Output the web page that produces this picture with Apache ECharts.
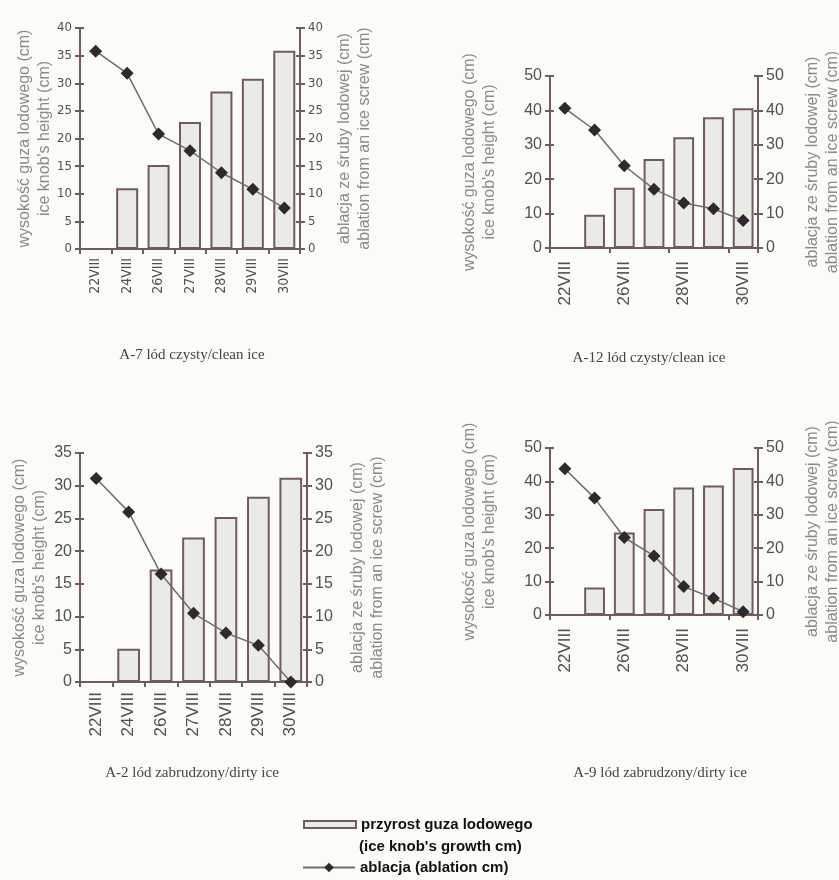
<!DOCTYPE html>
<html>
<head>
<meta charset="UTF-8">
<title>Ice knobs</title>
<script src="https://cdn.jsdelivr.net/npm/echarts@6/dist/echarts.min.js"></script>
<style>
  html, body { margin: 0; padding: 0; background: #fbfbf7; }
  #chart { width: 839px; height: 880px; }
</style>
</head>
<body>
<div id="chart"></div>
<script>
// dni pomiarow
var days = ['22VIII', '24VIII', '26VIII', '27VIII', '28VIII', '29VIII', '30VIII'];

// przyrost guza lodowego (cm) i ablacja (cm)
var knobA7 = [0, 11, 15.2, 23, 28.5, 30.8, 35.9];
var ablA7 = [35.8, 31.8, 20.8, 17.8, 13.8, 10.8, 7.4];
var knobA12 = [0, 9.7, 17.5, 25.9, 32.2, 38, 40.6];
var ablA12 = [40.6, 34.3, 23.9, 17.1, 13.1, 11.4, 8];
var knobA2 = [0, 5.1, 17.2, 22.1, 25.2, 28.3, 31.2];
var ablA2 = [31.1, 26, 16.5, 10.5, 7.5, 5.6, 0];
var knobA9 = [0, 8.2, 24.7, 31.7, 38.2, 38.8, 44];
var ablA9 = [43.8, 35, 23.2, 17.7, 8.5, 5, 1];

var titles = ['A-7 lód czysty/clean ice', 'A-12 lód czysty/clean ice',
              'A-2 lód zabrudzony/dirty ice', 'A-9 lód zabrudzony/dirty ice'];
var barName = 'przyrost guza lodowego';
var lineName = 'ablacja (ablation cm)';

var axisCol = '#6d5c60';
var labelCol = '#505050';
var nameCol = '#8a8a8a';
var narrow = '"DejaVu Sans Condensed", "Liberation Sans", sans-serif';

var panels = [
  { knob: knobA7, abl: ablA7, max: 40, step: 5, every: 0, fs: 13, xfs: 14, xm: 9, font: narrow,
    grid: { left: 80, top: 28, width: 220, height: 221 }, gapL: 25, gapR: 35, tx: 192, ty: 355 },
  { knob: knobA12, abl: ablA12, max: 50, step: 10, every: 1, fs: 16, xfs: 17, xm: 13, font: 'Liberation Sans',
    grid: { left: 550, top: 76, width: 208, height: 172 }, gapL: 50, gapR: 45, tx: 649, ty: 358 },
  { knob: knobA2, abl: ablA2, max: 35, step: 5, every: 0, fs: 16, xfs: 17, xm: 10, font: 'Liberation Sans',
    grid: { left: 80, top: 453, width: 227, height: 229 }, gapL: 30, gapR: 41, tx: 192, ty: 773 },
  { knob: knobA9, abl: ablA9, max: 50, step: 10, every: 1, fs: 16, xfs: 17, xm: 13, font: 'Liberation Sans',
    grid: { left: 550, top: 448, width: 208, height: 167 }, gapL: 50, gapR: 45, tx: 660, ty: 773 }
];

var grids = [], xAxes = [], yAxes = [], innerTicks = [], series = [], graphics = [];

panels.forEach(function (p, i) {
  grids.push(Object.assign({ outerBoundsMode: 'none', containLabel: false }, p.grid));
  xAxes.push({
    type: 'category', gridIndex: i, data: days,
    axisLine: { lineStyle: { color: axisCol, width: 2 } },
    axisTick: { show: true, length: 5, lineStyle: { color: axisCol, width: 2 } },
    axisLabel: { rotate: 90, interval: p.every, color: labelCol, fontSize: p.xfs,
                 fontFamily: p.font, margin: p.xm }
  });
  var yCommon = {
    type: 'value', gridIndex: i, min: 0, max: p.max, interval: p.step,
    splitLine: { show: false },
    axisLine: { show: true, lineStyle: { color: axisCol, width: 2 } },
    axisTick: { show: true, length: 5, lineStyle: { color: axisCol, width: 2 } },
    axisLabel: { color: labelCol, fontSize: p.fs, fontFamily: p.font, margin: 8 },
    nameLocation: 'middle', nameRotate: 90, nameMoveOverlap: false,
    nameTextStyle: { color: nameCol, fontSize: 16, fontFamily: 'Liberation Sans', lineHeight: 20 }
  };
  yAxes.push(Object.assign({}, yCommon, {
    position: 'left', nameGap: p.gapL,
    name: 'wysokość guza lodowego (cm)\nice knob\'s height (cm)'
  }));
  yAxes.push(Object.assign({}, yCommon, {
    position: 'right', nameGap: p.gapR,
    name: 'ablacja ze śruby lodowej (cm)\nablation from an ice screw (cm)'
  }));
  // krotkie kreski po wewnetrznej stronie osi (przecinaja os jak w oryginale)
  ['left', 'right'].forEach(function (pos) {
    innerTicks.push({
      type: 'value', gridIndex: i, min: 0, max: p.max, interval: p.step, position: pos,
      splitLine: { show: false }, axisLine: { show: false }, axisLabel: { show: false },
      axisTick: { show: true, inside: true, length: 4, lineStyle: { color: axisCol, width: 2 } }
    });
  });
  series.push({
    name: barName, type: 'bar', xAxisIndex: i, yAxisIndex: i * 2,
    data: p.knob, barWidth: '70%',
    itemStyle: { color: '#eaeae7', borderColor: axisCol, borderWidth: 2 }
  });
  series.push({
    name: lineName, type: 'line', xAxisIndex: i, yAxisIndex: i * 2 + 1,
    data: p.abl, symbol: 'diamond', symbolSize: 13, z: 3,
    lineStyle: { color: '#6e6e6e', width: 1.5 },
    itemStyle: { color: '#2e2a2b' }
  });
  graphics.push({
    type: 'text', x: p.tx, y: p.ty,
    style: { text: titles[i], align: 'center', verticalAlign: 'middle',
             fill: '#444', font: '15px "Liberation Serif"' }
  });
});

graphics.push({
  type: 'text', x: 359, y: 847,
  style: { text: '(ice knob\'s growth cm)', verticalAlign: 'middle',
           fill: '#111', font: 'bold 15px "Liberation Sans"' }
});

var myChart = echarts.init(document.getElementById('chart'));
myChart.setOption({
  backgroundColor: '#fbfbf7',
  animation: false,
  grid: grids,
  xAxis: xAxes,
  yAxis: yAxes.concat(innerTicks),
  series: series,
  graphic: graphics,
  legend: [{
    data: [{ name: barName, icon: 'rect' }],
    left: 303, top: 817, padding: 0, itemWidth: 52, itemHeight: 7,
    textStyle: { color: '#111', fontSize: 15, fontWeight: 'bold', fontFamily: 'Liberation Sans' }
  }, {
    data: [lineName],
    left: 302, top: 860, padding: 0, itemWidth: 52, itemHeight: 12,
    textStyle: { color: '#111', fontSize: 15, fontWeight: 'bold', fontFamily: 'Liberation Sans' }
  }]
});
</script>
</body>
</html>
